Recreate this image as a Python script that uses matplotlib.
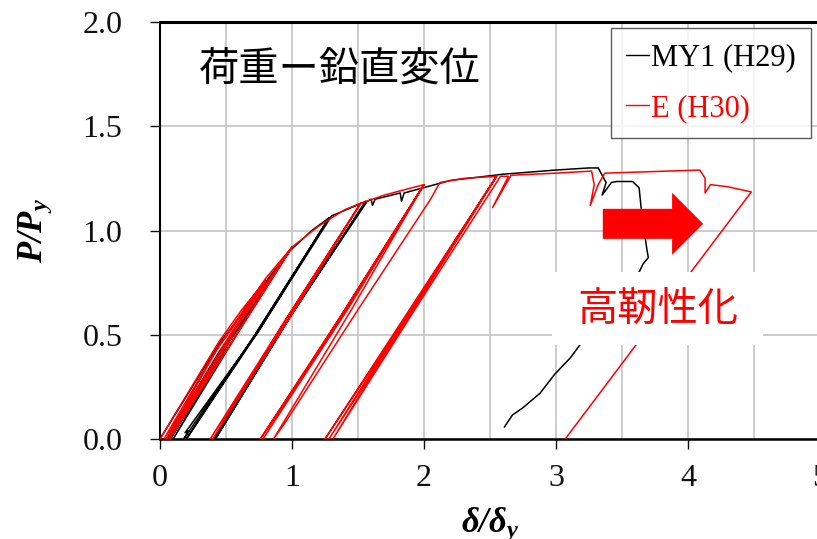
import matplotlib
matplotlib.use("Agg")
import matplotlib.pyplot as plt
from matplotlib.lines import Line2D
from matplotlib.patches import FancyArrow, Rectangle

# ---- data (delta/delta_y, P/P_y) ----
# MY1 (H29) specimen, black
my1_x = [0.00, 0.45, 0.82, 0.44, 0.05, 0.45, 0.82, 0.42, 0.06,
         0.50, 0.82, 0.98, 0.55, 0.08, 0.55, 0.98, 0.52, 0.10,
         0.60, 0.98, 1.15, 1.28, 0.72, 0.18, 0.20, 0.22, 0.19, 0.75,
         1.28, 0.70, 0.20, 0.75, 1.30, 1.45, 1.56, 0.98, 0.41,
         1.00, 1.56, 0.98, 0.42, 1.00, 1.57, 1.60, 1.61, 1.63,
         1.82, 1.83, 1.85, 2.20, 2.60, 3.00, 3.25, 3.32, 3.38,
         3.35, 3.42, 3.46, 3.58, 3.63, 3.65, 3.69, 3.70, 3.66,
         3.63, 3.40, 3.18, 3.11, 2.99, 2.88, 2.75, 2.67, 2.61]
my1_y = [0.00, 0.46, 0.76, 0.40, 0.00, 0.42, 0.76, 0.38, 0.00,
         0.46, 0.77, 0.90, 0.50, 0.00, 0.50, 0.90, 0.46, 0.00,
         0.52, 0.90, 1.00, 1.06, 0.50, 0.00, 0.02, 0.04, 0.03, 0.52,
         1.06, 0.48, 0.00, 0.52, 1.07, 1.11, 1.14, 0.58, 0.00,
         0.60, 1.14, 0.58, 0.00, 0.60, 1.14, 1.15, 1.12, 1.15,
         1.18, 1.14, 1.18, 1.24, 1.27, 1.29, 1.30, 1.30, 1.23,
         1.17, 1.23, 1.235, 1.235, 1.205, 1.08, 0.905, 0.87, 0.84,
         0.80, 0.62, 0.45, 0.39, 0.31, 0.22, 0.15, 0.115, 0.058]

# E (H30) specimen, red
e_x = [0.00, 0.45, 0.62, 0.80, 0.45, 0.03, 0.40, 0.80, 0.42, 0.05,
       0.45, 0.80, 1.00, 0.60, 0.07, 0.55, 1.00, 0.58, 0.07, 0.60,
       1.00, 1.20, 1.40, 1.52, 1.00, 0.40, 0.95, 1.52, 0.98, 0.38,
       0.96, 1.52, 1.70, 2.00, 1.42, 0.78, 1.38, 2.00, 1.40, 0.76,
       1.38, 2.00, 1.45, 0.86, 0.95, 1.50, 2.05, 2.12, 2.30, 2.55,
       1.90, 1.25, 1.90, 2.55, 1.88, 1.28, 1.92, 2.55, 1.90, 1.31,
       1.93, 2.58, 2.64, 2.52, 2.66, 3.00, 3.27, 3.29, 3.26, 3.32,
       3.37, 3.61, 4.09, 4.13, 4.13, 4.17, 4.30, 4.48, 3.07]
e_y = [0.00, 0.47, 0.62, 0.76, 0.40, 0.00, 0.40, 0.76, 0.38, 0.00,
       0.45, 0.77, 0.92, 0.52, 0.00, 0.52, 0.92, 0.50, 0.00, 0.55,
       0.92, 1.02, 1.10, 1.13, 0.60, 0.00, 0.57, 1.13, 0.58, 0.00,
       0.58, 1.13, 1.17, 1.22, 0.62, 0.00, 0.60, 1.22, 0.61, 0.00,
       0.60, 1.22, 0.62, 0.00, 0.08, 0.62, 1.15, 1.23, 1.25, 1.26,
       0.62, 0.00, 0.63, 1.26, 0.60, 0.00, 0.62, 1.26, 0.61, 0.00,
       0.62, 1.26, 1.26, 1.11, 1.265, 1.275, 1.285, 1.22, 1.12, 1.22,
       1.275, 1.28, 1.29, 1.25, 1.18, 1.22, 1.21, 1.185, 0.00]

legend_labels = ["MY1 (H29)", "E (H30)"]
title_text = "荷重ー鉛直変位"
note_text = "高靭性化"

SERIF = "Liberation Serif"
CJK = ["Noto Sans CJK JP", "DejaVu Sans"]

plt.rcParams["mathtext.fontset"] = "custom"
plt.rcParams["mathtext.rm"] = "Liberation Serif:bold:italic"
plt.rcParams["mathtext.it"] = "Liberation Serif:bold:italic"
plt.rcParams["mathtext.bf"] = "Liberation Serif:bold:italic"

fig = plt.figure(figsize=(8.17, 5.39), dpi=100)
ax = fig.add_axes([0.1958, 0.1855, 0.8078, 0.7737])

ax.plot(my1_x, my1_y, color="black", linewidth=1.1, zorder=3)
ax.plot(e_x, e_y, color="red", linewidth=1.1, zorder=3)

ax.set_xlim(0, 5)
ax.set_ylim(0, 2.0)
ax.set_xticks([0, 1, 2, 3, 4, 5])
ax.set_yticks([0, 0.5, 1.0, 1.5, 2.0])
ax.set_yticklabels(["0.0", "0.5", "1.0", "1.5", "2.0"])
ax.set_xticks([0.5, 1.5, 2.5, 3.5, 4.5], minor=True)
ax.grid(True, which="both", color="#c8c8c8", linewidth=1.3, zorder=0)
ax.set_axisbelow(True)
ax.tick_params(axis="both", which="major", direction="out", length=7,
               width=1.0, labelsize=23, colors="#111111")
ax.tick_params(axis="y", pad=20)
ax.tick_params(axis="x", pad=11)
ax.tick_params(which="minor", length=0)
for lab in ax.get_xticklabels() + ax.get_yticklabels():
    lab.set_fontfamily(SERIF)

ax.spines["top"].set_linewidth(2.2)
ax.spines["bottom"].set_linewidth(1.8)
ax.spines["left"].set_linewidth(1.5)
ax.spines["right"].set_linewidth(1.5)

ax.set_xlabel(r"$\delta/\delta_y$", fontsize=25)
ax.set_ylabel(r"$P/P_y$", fontsize=25)
ax.xaxis.set_label_coords(0.5, -0.16)
ax.yaxis.set_label_coords(-0.16, 0.5)

# legend
handles = [Line2D([0], [0], color="black", lw=1.0),
           Line2D([0], [0], color="red", lw=1.0)]
leg = ax.legend(handles, legend_labels, loc="upper right",
                bbox_to_anchor=(0.986, 0.985), prop={"family": SERIF, "size": 22},
                handlelength=0.75, handletextpad=0.05, labelspacing=0.7,
                borderpad=0.5, frameon=True, fancybox=False,
                labelcolor="linecolor", borderaxespad=0)
leg.get_frame().set_edgecolor("#333333")
leg.get_frame().set_linewidth(1.0)

# title inside the plot
ax.text(0.272, 0.886, title_text, transform=ax.transAxes, family=CJK,
        fontsize=29, ha="center", va="center", color="black", zorder=5)

# white box + note
ax.add_patch(Rectangle((0.594, 0.225), 0.32, 0.175, transform=ax.transAxes,
                       facecolor="white", edgecolor="none", zorder=4))
ax.text(0.754, 0.312, note_text, transform=ax.transAxes, family=CJK,
        fontsize=29, ha="center", va="center", color="red", zorder=5)

# block arrow
ax.add_patch(FancyArrow(0.671, 0.516, 0.152, 0.0, width=0.072,
                        head_width=0.149, head_length=0.047,
                        length_includes_head=True, transform=ax.transAxes,
                        facecolor="red", edgecolor="none", zorder=5))

fig.savefig("out.png", dpi=100)
